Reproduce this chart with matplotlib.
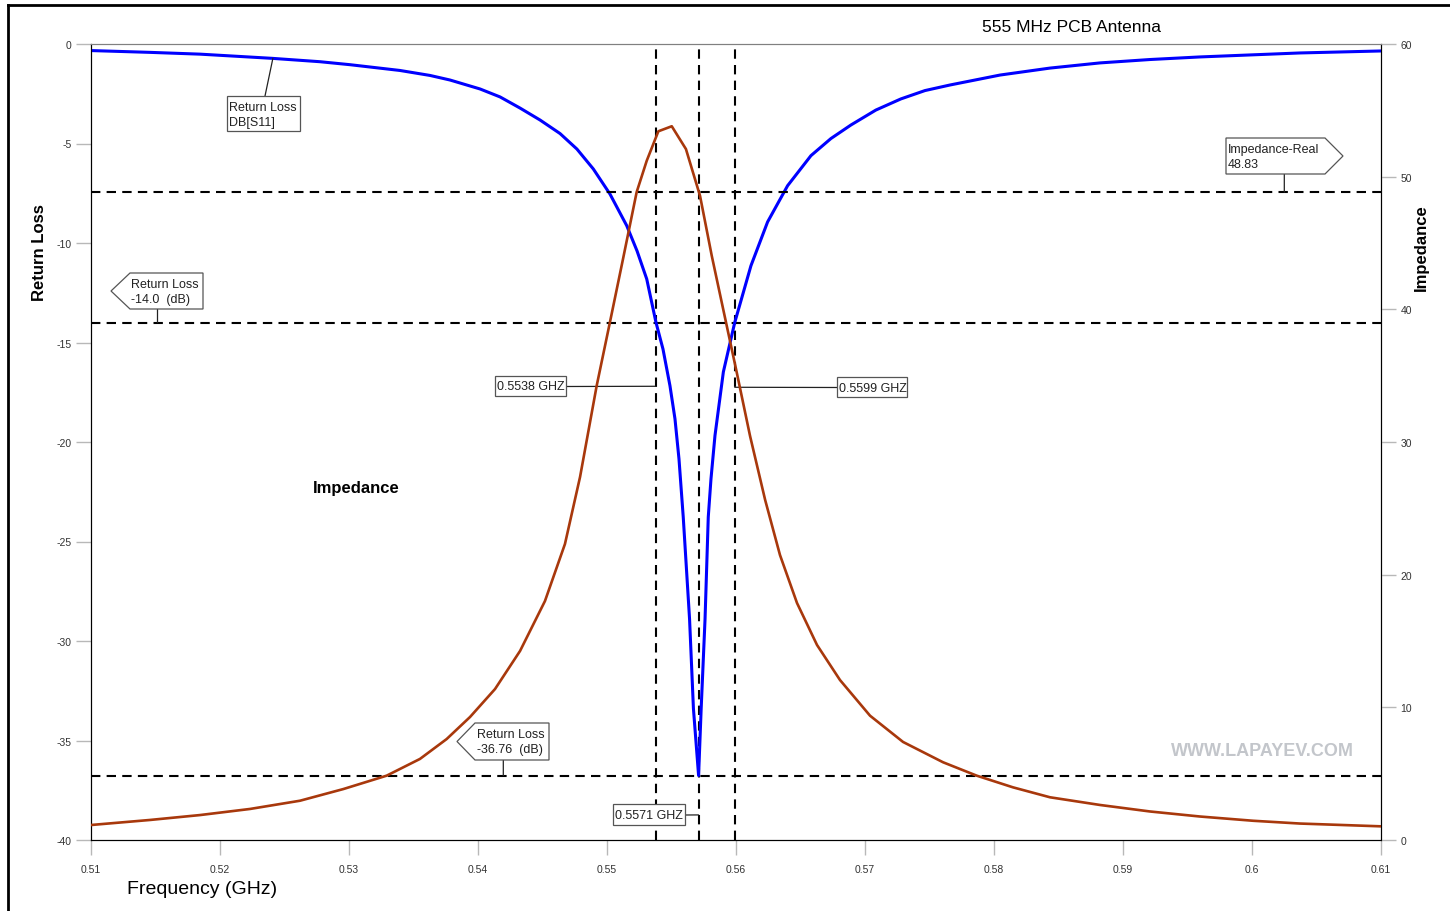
import matplotlib
matplotlib.use("Agg")
import matplotlib.pyplot as plt
from matplotlib.patches import Polygon, Rectangle
from matplotlib.lines import Line2D

plt.rcParams['font.family'] = ['Liberation Sans', 'DejaVu Sans']
plt.rcParams['axes.unicode_minus'] = False

# Return loss (dB)
rl_freq = [0.5100, 0.51457, 0.51845, 0.52403, 0.52775, 0.53008, 0.53395, 0.53628,
           0.53783, 0.54016, 0.54171, 0.54326, 0.54481, 0.54636, 0.54767, 0.54894,
           0.55023, 0.55153, 0.55233, 0.55308, 0.5538, 0.55434, 0.55488, 0.55527,
           0.55558, 0.55591, 0.5564, 0.5567, 0.5571, 0.5573, 0.5576, 0.55785,
           0.55806, 0.55837, 0.55902, 0.5599, 0.56116, 0.56245, 0.56400, 0.56581,
           0.56736, 0.56891, 0.57084, 0.57278, 0.57465, 0.57659, 0.58047, 0.58434,
           0.58822, 0.59209, 0.59597, 0.59984, 0.60372, 0.6100]
rl_db = [-0.33, -0.42, -0.51, -0.72, -0.89, -1.04, -1.33, -1.58,
         -1.81, -2.26, -2.66, -3.22, -3.82, -4.50, -5.28, -6.28,
         -7.54, -9.13, -10.40, -11.81, -14.0, -15.33, -17.17, -18.84,
         -20.85, -23.77, -28.9, -33.4, -36.76, -33.4, -28.9, -23.77,
         -21.86, -19.68, -16.48, -14.0, -11.14, -8.94, -7.12, -5.61,
         -4.75, -4.07, -3.32, -2.76, -2.34, -2.06, -1.56, -1.21,
         -0.95, -0.78, -0.65, -0.55, -0.45, -0.35]

# Real part of impedance (ohm)
z_freq = [0.5100, 0.51457, 0.51845, 0.52233, 0.52620, 0.52956, 0.53292, 0.53550,
          0.53757, 0.53938, 0.54132, 0.54326, 0.54519, 0.54674, 0.54791, 0.54920,
          0.55023, 0.55124, 0.55230, 0.55308, 0.55398, 0.55502, 0.55612, 0.55721,
          0.55812, 0.55928, 0.56005, 0.56109, 0.56226, 0.56341, 0.56473, 0.56628,
          0.56806, 0.57039, 0.57295, 0.57605, 0.57866, 0.58147, 0.58434, 0.58822,
          0.59209, 0.59597, 0.60008, 0.60372, 0.6100]
z_real = [1.13, 1.51, 1.88, 2.34, 2.96, 3.84, 4.85, 6.11,
          7.61, 9.27, 11.38, 14.25, 18.01, 22.31, 27.36, 34.24,
          39.04, 43.79, 48.84, 51.2, 53.42, 53.80, 52.08, 48.56,
          44.04, 38.77, 35.28, 30.45, 25.63, 21.48, 17.86, 14.70,
          12.06, 9.37, 7.39, 5.86, 4.85, 3.97, 3.22, 2.64,
          2.15, 1.77, 1.45, 1.24, 1.03]

# markers
f_lo, f_res, f_hi = 0.5538, 0.5571, 0.5599
rl_lo, rl_min = -14.0, -36.76
z_res = 48.83

x_ticks = [0.51, 0.52, 0.53, 0.54, 0.55, 0.56, 0.57, 0.58, 0.59, 0.60, 0.61]
x_labels = ['0.51', '0.52', '0.53', '0.54', '0.55', '0.56', '0.57', '0.58', '0.59', '0.6', '0.61']
rl_ticks = [0, -5, -10, -15, -20, -25, -30, -35, -40]
z_ticks = [0, 10, 20, 30, 40, 50, 60]

W, H = 1450, 912


def fp(x, y):
    # reference pixel -> figure fraction
    return (x / W, 1 - y / H)


fig = plt.figure(figsize=(W / 100, H / 100), dpi=100)
ax = fig.add_axes([91 / W, 1 - 841 / H, 1290 / W, 796 / H])
ax2 = ax.twinx()

dash = (0, (4.5, 3))
ax.axhline(rl_lo, color='black', lw=1.5, ls=dash, zorder=1)
ax.axhline(rl_min, color='black', lw=1.5, ls=dash, zorder=1)
for f in (f_lo, f_res, f_hi):
    ax.axvline(f, color='black', lw=1.5, ls=dash, zorder=1)
ax2.axhline(z_res, color='black', lw=1.5, ls=dash, zorder=1)

ax.plot(rl_freq, rl_db, color='#0000ff', lw=2.2, zorder=3, solid_joinstyle='round')
ax2.plot(z_freq, z_real, color='#a8380c', lw=1.9, zorder=3, solid_joinstyle='round')

ax.set_xlim(0.51, 0.61)
ax.set_ylim(-40, 0)
ax2.set_ylim(0, 60)
ax.set_xticks(x_ticks)
ax.set_xticklabels(x_labels)
ax.set_yticks(rl_ticks)
ax2.set_yticks(z_ticks)

for a in (ax, ax2):
    a.tick_params(length=11, width=1, color='#b8b8b8', labelsize=7.5,
                  labelcolor='#333333')
    for s in ('left', 'right', 'bottom'):
        a.spines[s].set_color('black')
    a.spines['top'].set_color('#808080')
ax.tick_params(axis='y', pad=3)
ax.tick_params(axis='x', pad=6)
ax2.tick_params(axis='y', pad=3)

ax.set_ylabel('Return Loss', fontsize=12, fontweight='bold')
ax.yaxis.set_label_coords(-0.0341, 0.739)
ax2.set_ylabel('Impedance', fontsize=12, fontweight='bold', rotation=90)
ax2.yaxis.set_label_coords(1.0256, 0.745)

fig.text(*fp(1072, 27), '555 MHz PCB Antenna', fontsize=12.5, ha='center', va='center')
fig.text(*fp(202, 890), 'Frequency (GHz)', fontsize=14, ha='center', va='center')
fig.text(*fp(313, 489), 'Impedance', fontsize=12, fontweight='bold', ha='left', va='center')
fig.text(*fp(1262, 752), 'WWW.LAPAYEV.COM', fontsize=13, fontweight='bold',
         color='#c3c6cb', ha='center', va='center')

# figure frame (left and top edges)
fig.add_artist(Line2D([8 / W, 8 / W], [0, 1 - 6 / H], color='black', lw=2,
                      transform=fig.transFigure))
fig.add_artist(Line2D([8 / W, 1], [1 - 6 / H, 1 - 6 / H], color='black', lw=2,
                      transform=fig.transFigure))

box_kw = dict(facecolor='white', edgecolor='#555555', lw=0.9,
              transform=fig.transFigure, zorder=5)
txt_kw = dict(fontsize=9, color='#222222', ha='left', va='center', zorder=6)
lead_kw = dict(arrowstyle='-', lw=0.9, color='#222222', shrinkA=0, shrinkB=0)


def rect_box(x0, y0, x1, y1):
    fig.add_artist(Rectangle(fp(x0, y1), (x1 - x0) / W, (y1 - y0) / H, **box_kw))


def pent_left(tip, x0, y0, x1, y1):
    pts = [fp(tip, (y0 + y1) / 2), fp(x0, y0), fp(x1, y0), fp(x1, y1), fp(x0, y1)]
    fig.add_artist(Polygon(pts, closed=True, **box_kw))


def pent_right(x0, y0, x1, y1, tip):
    pts = [fp(x0, y0), fp(x1, y0), fp(tip, (y0 + y1) / 2), fp(x1, y1), fp(x0, y1)]
    fig.add_artist(Polygon(pts, closed=True, **box_kw))


def leader(xy, px, a=ax):
    a.annotate('', xy=xy, xycoords='data', xytext=fp(*px),
               textcoords='figure fraction', arrowprops=lead_kw, zorder=4)


def px_to_f(x):
    return 0.51 + (x - 91) / 12900


# Return Loss DB[S11]
rect_box(227, 97, 300, 132)
fig.text(*fp(229, 108), 'Return Loss', **txt_kw)
fig.text(*fp(229, 123), 'DB[S11]', **txt_kw)
leader((0.5241, -0.72), (265, 97))

# Return Loss -14.0
pent_left(111, 130, 274, 203, 310)
fig.text(*fp(131, 285), 'Return Loss', **txt_kw)
fig.text(*fp(131, 300), '-14.0  (dB)', **txt_kw)
leader((px_to_f(157.5), rl_lo), (157.5, 310))

# Impedance-Real 48.83
pent_right(1226, 139, 1325, 175, 1343)
fig.text(*fp(1228, 150), 'Impedance-Real', **txt_kw)
fig.text(*fp(1228, 165), '48.83', **txt_kw)
leader((px_to_f(1284.3), z_res), (1284.3, 175), a=ax2)

# Return Loss -36.76
pent_left(457, 475, 724, 549, 761)
fig.text(*fp(477, 735), 'Return Loss', **txt_kw)
fig.text(*fp(477, 750), '-36.76  (dB)', **txt_kw)
leader((px_to_f(503.3), rl_min), (503.3, 761))

# frequency markers
rect_box(495, 377, 566, 397)
fig.text(*fp(497, 387.5), '0.5538 GHZ', **txt_kw)
leader((f_lo, -17.2), (566, 387.5))

rect_box(837, 378, 907, 398)
fig.text(*fp(839, 388.5), '0.5599 GHZ', **txt_kw)
leader((f_hi, -17.25), (837, 388.5))

rect_box(613, 805, 685, 826)
fig.text(*fp(615, 816), '0.5571 GHZ', **txt_kw)
leader((f_res, -38.74), (685, 816))

fig.savefig('out.png', dpi=100)
